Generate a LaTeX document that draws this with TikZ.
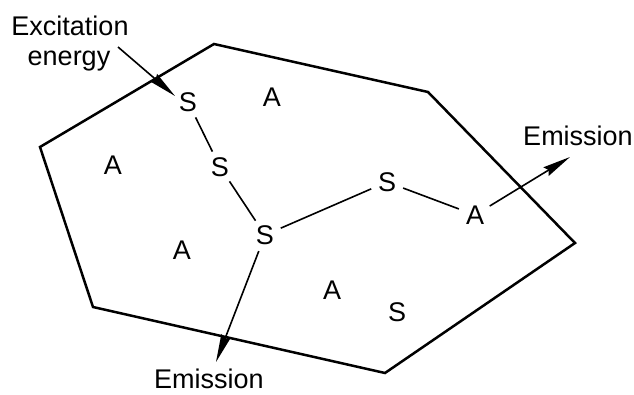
\documentclass[tikz,border=0pt]{standalone}
\usepackage{fontspec}
\setmainfont{Liberation Sans}
\usetikzlibrary{arrows.meta}
\begin{document}
\begin{tikzpicture}[x=1pt,y=-1pt,
  lbl/.style={font=\fontsize{27}{32}\selectfont, inner sep=0pt},
  mol/.style={circle, inner sep=0pt, minimum size=34pt, font=\fontsize{27}{32}\selectfont},
  border/.style={line width=2.5pt, line join=miter},
  link/.style={line width=1.6pt},
  arr/.style={line width=1.6pt, -{Stealth[length=28pt,width=10pt,inset=3pt]}}]
\useasboundingbox (0,0) rectangle (634,394);
\fill[white] (0,0) rectangle (634,394);
% domain boundary
\draw[border] (40,147) -- (214,44) -- (428,92) -- (575,243) -- (385,373) -- (93,307) -- cycle;
% molecules
\node[mol] (s1) at (188,102) {S};
\node[mol] (a1) at (272,97) {A};
\node[mol] (a2) at (113,165) {A};
\node[mol] (s2) at (220,167) {S};
\node[mol] (s4) at (265,235) {S};
\node[mol] (a3) at (182,250) {A};
\node[mol] (s3) at (387,182) {S};
\node[mol] (a5) at (475,215) {A};
\node[mol] (a4) at (332,290) {A};
\node[mol] (s5) at (397,312) {S};
% labels
\node[lbl, anchor=base] (exc1) at (70,35) {Excitation};
\node[lbl, anchor=base] (exc2) at (69,65) {energy};
\node[lbl, anchor=base] (emr) at (578,145) {Emission};
\node[lbl, anchor=base] (emb) at (209,388) {Emission};
% free ends
\coordinate (excstart) at (118,47);
\coordinate (exctip) at (175,96);
\coordinate (emrtip) at (570,157);
\coordinate (embtip) at (216,362);
% connectors
\draw[link] (s1) -- (s2);
\draw[link] (s2) -- (s4);
\draw[link] (s4) -- (s3);
\draw[link] (s3) -- (a5);
\draw[arr] (excstart) -- (exctip);
\draw[arr] (a5) -- (emrtip);
\draw[arr] (s4) -- (embtip);
\end{tikzpicture}
\end{document}
